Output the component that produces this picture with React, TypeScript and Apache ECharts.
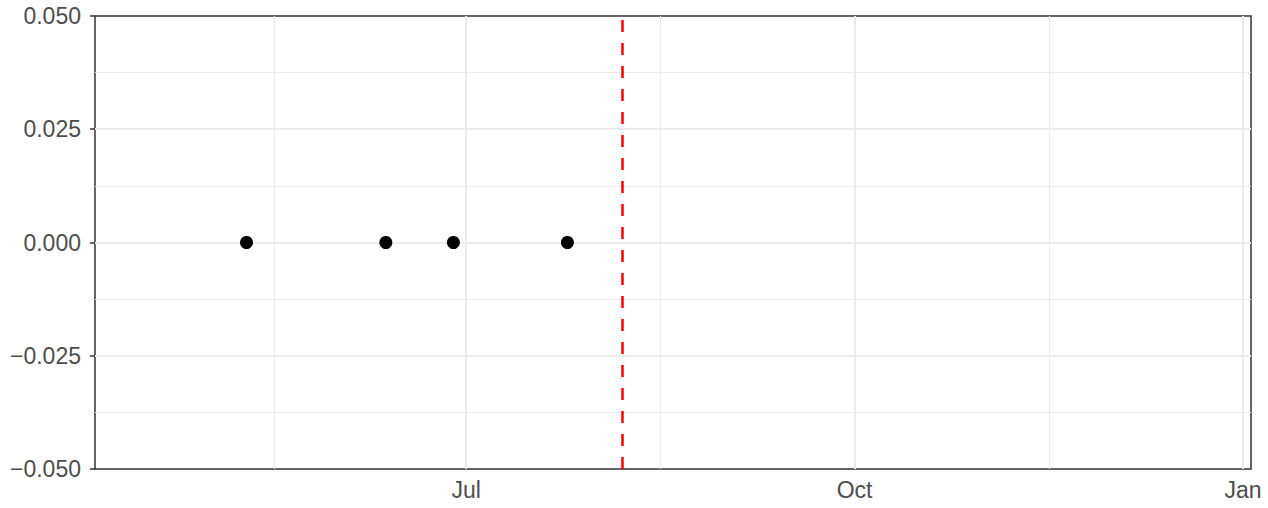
import React, { useEffect, useRef } from "react";
import * as echarts from "echarts";

const pointDates = ["2021-05-10", "2021-06-12", "2021-06-28", "2021-07-25"];
const pointValues = [0, 0, 0, 0];
const cutoffDate = "2021-08-07";
const majorBreakDates = ["2021-07-01", "2021-10-01", "2022-01-01"];
const majorBreakLabels = ["Jul", "Oct", "Jan"];
const minorBreakDates = ["2021-05-16T12:00:00Z", "2021-08-16", "2021-11-16"];
const xLimits = ["2021-04-04T03:00:00Z", "2022-01-02T21:00:00Z"];
const yLimits = [-0.05, 0.05];
const yStep = 0.025;

const toTs = (s: string) => Date.parse(s.includes("T") ? s : s + "T00:00:00Z");

const FONT = "Liberation Sans, Arial, sans-serif";

export default function App() {
  const ref = useRef<HTMLDivElement>(null);
  useEffect(() => {
    if (!ref.current) return;
    const chart = echarts.init(ref.current, null, { renderer: "svg" });
    const majorTs = majorBreakDates.map(toTs);
    const minorTs = minorBreakDates.map(toTs);
    const gridLines = [
      ...majorTs.map((t) => ({ xAxis: t, lineStyle: { width: 2 } })),
      ...minorTs.map((t) => ({ xAxis: t, lineStyle: { width: 1 } })),
    ];
    chart.setOption({
      animation: false,
      grid: {
        left: 95,
        right: 17,
        top: 16,
        bottom: 39,
        show: true,
        borderColor: "#333333",
        borderWidth: 1.5,
        backgroundColor: "#FFFFFF",
      },
      xAxis: {
        type: "value",
        min: toTs(xLimits[0]),
        max: toTs(xLimits[1]),
        axisLine: { show: false },
        splitLine: { show: false },
        axisTick: {
          show: true,
          customValues: majorTs,
          length: 5,
          lineStyle: { color: "#333333", width: 1.5 },
        },
        axisLabel: {
          customValues: majorTs,
          formatter: (v: number) => {
            const i = majorTs.indexOf(v);
            return i >= 0 ? majorBreakLabels[i] : "";
          },
          fontSize: 23,
          color: "#4D4D4D",
          fontFamily: FONT,
          margin: 9,
        },
      },
      yAxis: {
        type: "value",
        min: yLimits[0],
        max: yLimits[1],
        interval: yStep,
        axisLine: { show: false },
        axisTick: {
          show: true,
          length: 5,
          lineStyle: { color: "#333333", width: 1.5 },
        },
        axisLabel: {
          formatter: (v: number) => v.toFixed(3).replace("-", "\u2212"),
          fontSize: 23,
          color: "#4D4D4D",
          fontFamily: FONT,
          margin: 14,
        },
        splitLine: {
          show: true,
          showMinLine: false,
          showMaxLine: false,
          lineStyle: { color: "#EBEBEB", width: 2 },
        },
        minorTick: { show: false, splitNumber: 2 },
        minorSplitLine: { show: true, lineStyle: { color: "#EBEBEB", width: 1 } },
      },
      series: [
        {
          type: "scatter",
          data: [],
          z: 1,
          silent: true,
          markLine: {
            silent: true,
            symbol: ["none", "none"],
            label: { show: false },
            lineStyle: { color: "#EBEBEB", type: "solid" },
            emphasis: { disabled: true },
            data: gridLines,
          },
        },
        {
          type: "scatter",
          data: [],
          z: 4,
          silent: true,
          markLine: {
            silent: true,
            symbol: ["none", "none"],
            label: { show: false },
            lineStyle: { color: "#FF0000", type: [12, 11], width: 2.5 },
            emphasis: { disabled: true },
            data: [{ xAxis: toTs(cutoffDate) }],
          },
        },
        {
          type: "scatter",
          z: 5,
          symbolSize: 13,
          itemStyle: { color: "#000000", opacity: 1 },
          data: pointDates.map((d, i) => [toTs(d), pointValues[i]]),
        },
      ],
    });
    return () => chart.dispose();
  }, []);
  return (
    <div
      ref={ref}
      style={{ position: "absolute", left: 0, top: 0, width: 1268, height: 508 }}
    />
  );
}
